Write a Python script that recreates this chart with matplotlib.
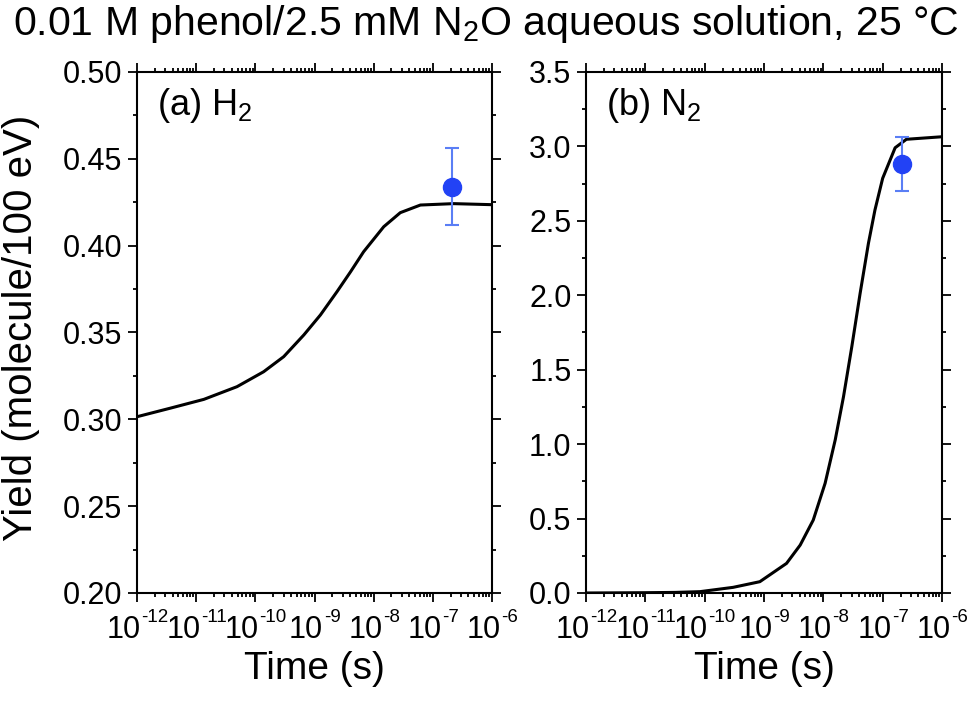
import numpy as np
import matplotlib
matplotlib.use("Agg")
import matplotlib.pyplot as plt
from matplotlib.ticker import LogLocator, MultipleLocator, NullFormatter, FixedLocator, FormatStrFormatter

plt.rcParams['font.family'] = ['Liberation Sans', 'DejaVu Sans']
plt.rcParams['mathtext.fontset'] = 'custom'
plt.rcParams['mathtext.rm'] = 'Liberation Sans'
plt.rcParams['mathtext.it'] = 'Liberation Sans'
plt.rcParams['mathtext.default'] = 'regular'

# ---- data (log10 of time in s) ----
h2_logt = [-12.0, -11.44, -10.87, -10.31, -9.86, -9.52, -9.18, -8.90, -8.62, -8.39, -8.17,
           -7.83, -7.55, -7.21, -6.65, -6.0]
h2_yield = [0.3015, 0.3064, 0.3115, 0.3188, 0.3274, 0.3361, 0.3486, 0.3601, 0.3735, 0.3850, 0.3965,
            0.4109, 0.4190, 0.4234, 0.4242, 0.4236]
h2_exp_t = [2.1e-7]
h2_exp_y = [0.434]
h2_exp_err = [0.022]

n2_logt = [-12.0, -11.0, -10.5, -10.08, -9.52, -9.07, -8.62, -8.39, -8.17, -7.97, -7.80, -7.66,
           -7.52, -7.38, -7.24, -7.13, -7.00, -6.79, -6.60, -6.0]
n2_yield = [0.0, 0.002, 0.004, 0.009, 0.038, 0.076, 0.199, 0.322, 0.490, 0.737, 1.028, 1.319,
            1.655, 2.013, 2.349, 2.573, 2.786, 2.991, 3.048, 3.065]
n2_exp_t = [2.1e-7]
n2_exp_y = [2.88]
n2_exp_err = [0.18]

xtick_vals = [1e-12, 1e-11, 1e-10, 1e-9, 1e-8, 1e-7, 1e-6]
xtick_exps = ['-12', '-11', '-10', '-9', '-8', '-7', '-6']

BASE_SIZE = 22
XBASE_SIZE = 22
EXP_SIZE = 13.5

fig = plt.figure(figsize=(9.71, 7.04), dpi=100)
ax1 = fig.add_axes([137/971, 1 - 593/704, 355/971, 521/704])
ax2 = fig.add_axes([586/971, 1 - 593/704, 356/971, 521/704])

renderer = fig.canvas.get_renderer()

def text_width(s, size):
    t = fig.text(0, 0, s, fontsize=size)
    w = t.get_window_extent(renderer).width
    t.remove()
    return w

w10 = text_width('10', XBASE_SIZE)

def style(ax, ylim, major, minor, fmt):
    ax.set_xscale('log')
    ax.set_xlim(1e-12, 1e-6)
    ax.set_ylim(*ylim)
    ax.xaxis.set_major_locator(FixedLocator(xtick_vals))
    ax.xaxis.set_major_formatter(NullFormatter())
    ax.xaxis.set_minor_locator(LogLocator(base=10, subs=np.arange(2, 10), numticks=20))
    ax.xaxis.set_minor_formatter(NullFormatter())
    ax.yaxis.set_major_locator(MultipleLocator(major))
    ax.yaxis.set_minor_locator(MultipleLocator(minor))
    ax.yaxis.set_major_formatter(FormatStrFormatter(fmt))
    ax.tick_params(which='both', direction='out', top=True, right=True, width=1.3)
    ax.tick_params(which='major', length=6.5, labelsize=BASE_SIZE, pad=4)
    ax.tick_params(which='minor', length=3.2)
    for s in ax.spines.values():
        s.set_linewidth(1.5)
    # x tick labels "10" with small raised exponent, centred on the tick
    for v, e in zip(xtick_vals, xtick_exps):
        we = text_width(e, EXP_SIZE)
        dx = (w10 - we) / 2.0
        ax.annotate('10', xy=(v, 0), xycoords=('data', 'axes fraction'),
                    xytext=(dx, -45), textcoords='offset pixels',
                    ha='right', va='baseline', fontsize=XBASE_SIZE, annotation_clip=False)
        ax.annotate(e, xy=(v, 0), xycoords=('data', 'axes fraction'),
                    xytext=(dx + 0.5, -29), textcoords='offset pixels',
                    ha='left', va='baseline', fontsize=EXP_SIZE, annotation_clip=False)
    ax.text(0.5, -0.146, 'Time (s)', transform=ax.transAxes, ha='center', va='center', fontsize=28)

ax1.plot(10.0 ** np.array(h2_logt), h2_yield, color='black', lw=2.2)
ax1.errorbar(h2_exp_t, h2_exp_y, yerr=h2_exp_err, fmt='o', color='#2242f5', ms=13,
             ecolor='#5a7ef5', elinewidth=1.5, capsize=5, capthick=1.5, zorder=5)
style(ax1, (0.20, 0.50), 0.05, 0.025, '%.2f')
ax1.text(0.056, 0.935, '(a) H$_2$', transform=ax1.transAxes, fontsize=26, va='center', ha='left')

ax2.plot(10.0 ** np.array(n2_logt), n2_yield, color='black', lw=2.2)
ax2.errorbar(n2_exp_t, n2_exp_y, yerr=n2_exp_err, fmt='o', color='#2242f5', ms=13,
             ecolor='#5a7ef5', elinewidth=1.5, capsize=5, capthick=1.5, zorder=5)
style(ax2, (0.0, 3.5), 0.5, 0.25, '%.1f')
ax2.text(0.056, 0.935, '(b) N$_2$', transform=ax2.transAxes, fontsize=26, va='center', ha='left')

fig.text(21/971, 1 - 328/704, 'Yield (molecule/100 eV)', rotation=90,
         ha='center', va='center', fontsize=29)

fig.text(0.5, 1 - 24/704, '0.01 M phenol/2.5 mM N$_2$O aqueous solution, 25 \u00b0C',
         ha='center', va='center', fontsize=29.5)

fig.savefig('out.png', dpi=100)
